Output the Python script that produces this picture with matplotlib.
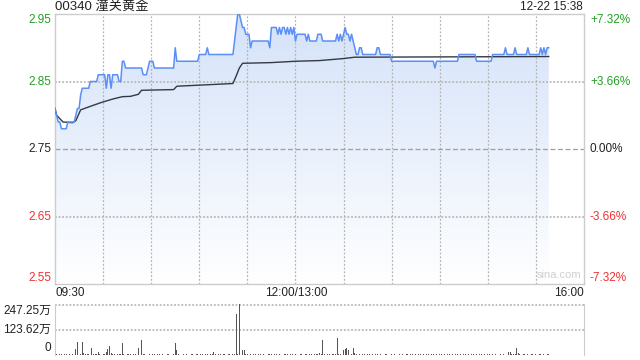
import numpy as np
import matplotlib
matplotlib.use("Agg")
import matplotlib.pyplot as plt
from matplotlib.colors import LinearSegmentedColormap

plt.rcParams['font.family'] = ['Liberation Sans', 'Noto Sans CJK SC', 'DejaVu Sans']

# minute-by-minute last price (09:30 = minute 0, lunch break removed)
price = [
    2.81, 2.80, 2.79, 2.79, 2.78, 2.78, 2.78, 2.78, 2.79, 2.79,   # 0
    2.79, 2.79, 2.79, 2.80, 2.81, 2.81, 2.83, 2.84, 2.84, 2.84,   # 10
    2.84, 2.84, 2.85, 2.85, 2.85, 2.85, 2.85, 2.86, 2.86, 2.86,   # 20
    2.86, 2.86, 2.84, 2.86, 2.86, 2.84, 2.86, 2.86, 2.86, 2.86,   # 30
    2.85, 2.85, 2.88, 2.88, 2.87, 2.87, 2.87, 2.87, 2.87, 2.87,   # 40
    2.87, 2.87, 2.87, 2.87, 2.87, 2.86, 2.86, 2.86, 2.87, 2.88,   # 50
    2.88, 2.88, 2.87, 2.87, 2.87, 2.87, 2.87, 2.87, 2.87, 2.87,   # 60
    2.87, 2.87, 2.87, 2.87, 2.87, 2.90, 2.88, 2.88, 2.88, 2.88,   # 70
    2.88, 2.88, 2.88, 2.88, 2.88, 2.88, 2.88, 2.88, 2.88, 2.88,   # 80
    2.89, 2.89, 2.89, 2.89, 2.89, 2.90, 2.89, 2.89, 2.89, 2.89,   # 90
    2.89, 2.89, 2.89, 2.89, 2.89, 2.89, 2.89, 2.89, 2.89, 2.89,   # 100
    2.89, 2.89, 2.91, 2.93, 2.95, 2.95, 2.94, 2.93, 2.93, 2.92,   # 110
    2.92, 2.92, 2.90, 2.91, 2.91, 2.91, 2.91, 2.91, 2.91, 2.91,   # 120
    2.91, 2.91, 2.91, 2.91, 2.90, 2.93, 2.93, 2.93, 2.93, 2.92,   # 130
    2.93, 2.92, 2.93, 2.93, 2.92, 2.93, 2.92, 2.93, 2.92, 2.93,   # 140
    2.91, 2.92, 2.92, 2.92, 2.92, 2.92, 2.92, 2.91, 2.92, 2.91,   # 150
    2.91, 2.91, 2.91, 2.91, 2.92, 2.92, 2.92, 2.91, 2.91, 2.91,   # 160
    2.91, 2.91, 2.91, 2.91, 2.91, 2.91, 2.92, 2.91, 2.92, 2.91,   # 170
    2.92, 2.93, 2.92, 2.92, 2.91, 2.92, 2.91, 2.90, 2.89, 2.89,   # 180
    2.90, 2.90, 2.89, 2.89, 2.89, 2.89, 2.89, 2.89, 2.89, 2.89,   # 190
    2.89, 2.90, 2.90, 2.89, 2.89, 2.89, 2.89, 2.89, 2.89, 2.89,   # 200
    2.88, 2.88, 2.88, 2.88, 2.88, 2.88, 2.88, 2.88, 2.88, 2.88,   # 210
    2.88, 2.88, 2.88, 2.88, 2.88, 2.88, 2.88, 2.88, 2.88, 2.88,   # 220
    2.88, 2.88, 2.88, 2.88, 2.88, 2.88, 2.88, 2.87, 2.88, 2.88,   # 230
    2.88, 2.88, 2.88, 2.88, 2.88, 2.88, 2.88, 2.88, 2.88, 2.88,   # 240
    2.88, 2.88, 2.89, 2.89, 2.89, 2.89, 2.89, 2.89, 2.89, 2.89,   # 250
    2.89, 2.89, 2.89, 2.88, 2.88, 2.88, 2.88, 2.88, 2.88, 2.88,   # 260
    2.88, 2.88, 2.88, 2.89, 2.89, 2.89, 2.89, 2.89, 2.89, 2.89,   # 270
    2.89, 2.90, 2.89, 2.89, 2.89, 2.89, 2.89, 2.90, 2.89, 2.89,   # 280
    2.89, 2.89, 2.89, 2.89, 2.89, 2.90, 2.89, 2.89, 2.89, 2.89,   # 290
    2.89, 2.89, 2.89, 2.90, 2.89, 2.90, 2.89, 2.90, 2.90,         # 300
]

# average price line, read at a few minutes
avg_min = [0, 1, 3, 5, 11, 13, 16, 23, 29, 36, 42, 47, 52, 54, 74, 76,
           111, 113, 115, 117, 135, 150, 165, 180, 187, 308]
avg_val = [2.810, 2.800, 2.795, 2.790, 2.789, 2.792, 2.808, 2.814, 2.819,
           2.824, 2.8275, 2.828, 2.831, 2.837, 2.838, 2.843, 2.847, 2.858,
           2.870, 2.877, 2.878, 2.880, 2.881, 2.884, 2.886, 2.887]

# volume per minute, in 万 shares
volume = [
    3, 4, 2, 5, 3, 2, 4, 3, 2, 6, 3, 4, 2, 30, 62, 3, 5, 62, 8, 4,
    3, 5, 2, 36, 4, 3, 5, 16, 3, 2, 4, 3, 16, 28, 42, 12, 4, 3, 2, 5,
    3, 4, 56, 3, 2, 4, 3, 5, 2, 3, 4, 2, 32, 3, 72, 4, 3, 2, 5, 3,
    2, 4, 3, 2, 5, 3, 2, 4, 3, 2, 3, 4, 2, 3, 5, 57, 26, 4, 3, 2,
    3, 2, 4, 3, 2, 5, 3, 2, 3, 4, 2, 3, 5, 2, 3, 4, 2, 3, 4, 15,
    3, 2, 4, 3, 2, 3, 5, 2, 3, 4, 2, 5, 3, 197, 4, 247, 18, 22, 22, 6,
    4, 3, 5, 2, 3, 4, 2, 3, 5, 2, 3, 4, 2, 3, 4, 3, 57, 5, 3, 2,
    4, 3, 2, 5, 3, 4, 2, 6, 3, 2, 4, 3, 2, 4, 3, 2, 5, 3, 2, 4,
    3, 2, 4, 3, 5, 10, 3, 75, 4, 2, 3, 5, 2, 3, 4, 3, 84, 5, 3, 16,
    22, 28, 36, 22, 4, 6, 32, 10, 5, 3, 4, 2, 3, 5, 2, 3, 4, 2, 3, 2,
    4, 3, 2, 3, 8, 2, 4, 3, 2, 3, 4, 2, 3, 2, 4, 3, 2, 3, 2, 4,
    3, 2, 3, 4, 2, 3, 2, 4, 3, 2, 3, 2, 4, 3, 2, 3, 4, 2, 3, 2,
    3, 4, 2, 3, 2, 3, 4, 2, 3, 2, 4, 3, 2, 3, 2, 3, 4, 2, 3, 2,
    4, 3, 2, 3, 2, 4, 3, 2, 3, 2, 3, 4, 2, 3, 2, 3, 2, 4, 3, 2,
    3, 2, 4, 16, 16, 3, 5, 4, 32, 8, 3, 2, 4, 3, 2, 3, 2, 3, 4, 2,
    3, 2, 3, 4, 2, 3, 2, 4, 3,
]

prev_close = 2.75
price_ticks = [2.95, 2.85, 2.75, 2.65, 2.55]
pct_labels = ["+7.32%", "+3.66%", "0.00%", "-3.66%", "-7.32%"]
vol_ticks = ["247.25万", "123.62万", "0"]
vol_max = 247.25
x_labels = ["09:30", "12:00/13:00", "16:00"]

GREEN = "#22a022"
RED = "#f23030"
GRID = "#b4b4b4"
DOT = (0, (1.5, 1.5))
HDOT = (0, (1, 1))
W, H = 640, 360


def fx(px):
    return px / W


def fy(py):
    return 1 - py / H


fig = plt.figure(figsize=(6.4, 3.6), dpi=100)
fig.patch.set_facecolor("white")

ax = fig.add_axes([fx(55), fy(284), fx(584) - fx(55), fy(14) - fy(284)])
axv = fig.add_axes([fx(55), fy(355), fx(584) - fx(55), fy(304) - fy(355)])

mins = np.arange(len(price))
p = np.array(price)

ax.set_xlim(0, 330)
ax.set_ylim(2.55, 2.95)

# gradient fill under the price line
poly = ax.fill_between(mins, p, 2.55, color="none", lw=0)
cmap = LinearSegmentedColormap.from_list("fade", ["#ffffff", "#d4e2f9"])
grad = np.linspace(0, 1, 256).reshape(-1, 1)
im = ax.imshow(grad, extent=[0, 330, 2.55, 2.95], origin="lower",
               aspect="auto", cmap=cmap, zorder=1)
im.set_clip_path(poly.get_paths()[0], transform=ax.transData)

# grid lines
grid_x = list(range(30, 330, 30))
ax.vlines(grid_x, 2.55, 2.95, colors=GRID, linewidths=0.9, linestyles=DOT,
          zorder=2, snap=True)
for v in [2.85, 2.65]:
    ax.plot([0, 330], [v, v], color="#b8b8b8", lw=1.3, ls=HDOT, zorder=2)
ax.plot([0, 330], [prev_close, prev_close], color="#a0a0a0", lw=0.9,
        ls=(0, (4, 2)), zorder=2)

ax.plot(mins, p, color="#5b8ff5", lw=1.1, zorder=4)
ax.plot(avg_min, avg_val, color="#333a44", lw=1.0, zorder=3)

ax.set_xticks([])
ax.set_yticks([])
for s in ax.spines.values():
    s.set_color("#cccccc")
    s.set_linewidth(1.0)

ax.text(0.995, 0.015, "sina.com", transform=ax.transAxes, ha="right",
        va="bottom", fontsize=8, color="#cfcfcf")

# volume panel
axv.bar(mins, volume, width=0.55, color="#555555", zorder=3)
axv.set_xlim(0, 330)
axv.set_ylim(0, vol_max)
for v in [vol_max * 0.98, vol_max / 2]:
    axv.plot([0, 330], [v, v], color="#b8b8b8", lw=1.3, ls=HDOT, zorder=2)
axv.set_xticks([])
axv.set_yticks([])
for side in ["top", "bottom"]:
    axv.spines[side].set_visible(False)
for side in ["left", "right"]:
    axv.spines[side].set_color("#cccccc")

# labels
label_y = [20, 82, 149, 217, 278]
colors = [GREEN, GREEN, "#222222", RED, RED]
for t, pct, yy, c in zip(price_ticks, pct_labels, label_y, colors):
    fig.text(fx(51), fy(yy), f"{t:.2f}", ha="right", va="center",
             fontsize=8.5, color=c)
    fig.text(fx(590), fy(yy), pct, ha="left", va="center",
             fontsize=8.5, color=c)

for lab, yy in zip(vol_ticks, [311, 330, 348]):
    fig.text(fx(51), fy(yy), lab, ha="right", va="center", fontsize=8.5,
             color="#222222")

fig.text(fx(55), fy(293), x_labels[0], ha="left", va="center", fontsize=8.5, color="#222222")
fig.text(fx(296), fy(293), x_labels[1], ha="center", va="center", fontsize=8.5, color="#222222")
fig.text(fx(584), fy(293), x_labels[2], ha="right", va="center", fontsize=8.5, color="#222222")

fig.text(fx(55), fy(7), "00340 潼关黄金", ha="left", va="center", fontsize=9.5, color="#222222")
fig.text(fx(583), fy(7), "12-22 15:38", ha="right", va="center", fontsize=8.5, color="#222222")

fig.savefig("out.png", dpi=100)
